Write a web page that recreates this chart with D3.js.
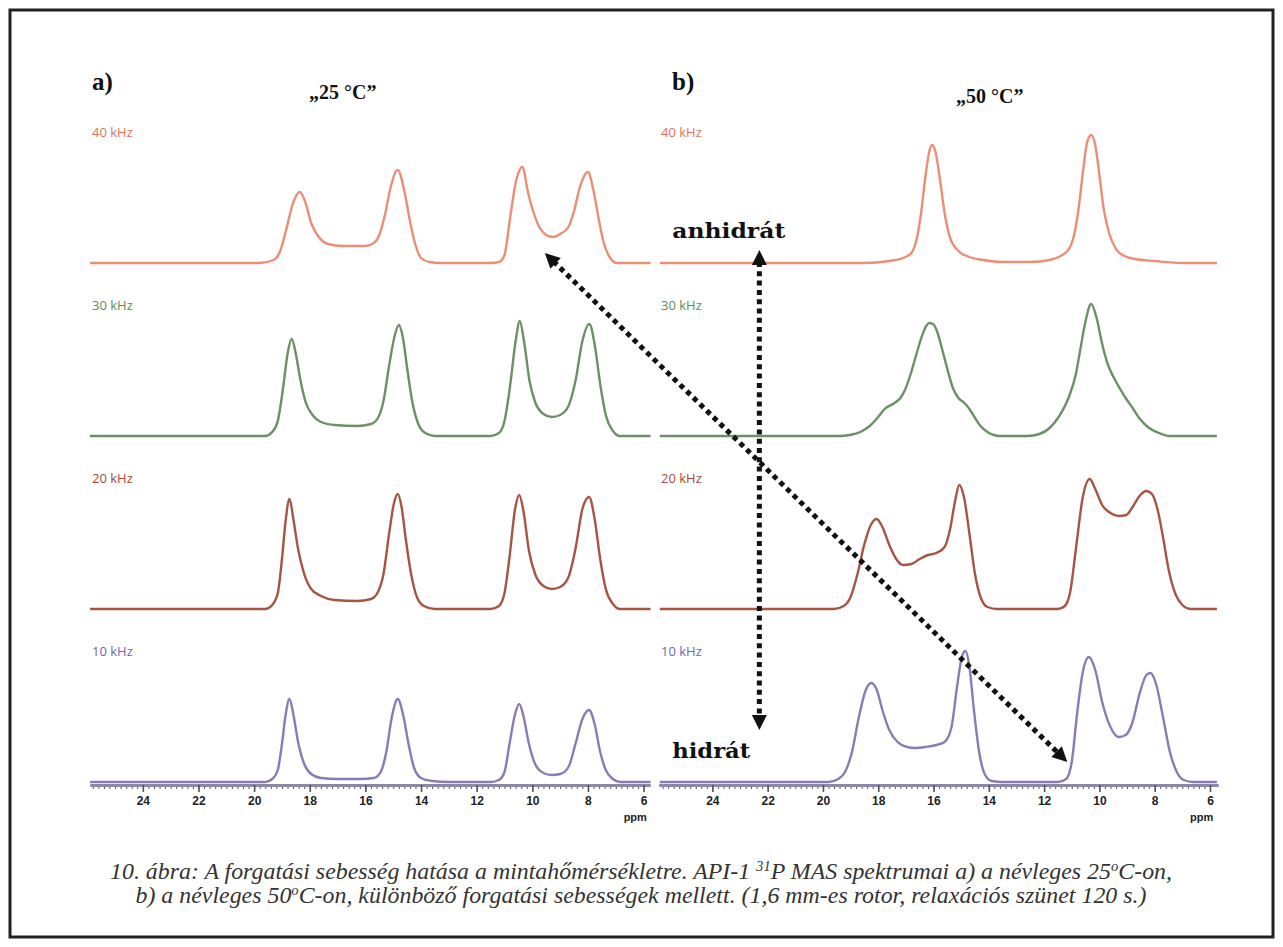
<!DOCTYPE html>
<html>
  <head>
    <meta charset="utf-8">
    <title>31P MAS spektrumok</title>
    <script src="https://d3js.org/d3.v7.min.js"></script>
    <style>
      body { margin: 0; background: #fff; }
      .spec { fill: none; stroke-width: 2.4; stroke-linejoin: round; }
      .freq { font-family: "Open Sans", sans-serif; font-size: 13px; }
      .tag { font-family: "Liberation Serif", serif; font-weight: bold; fill: #111; }
      .form { font-family: "DejaVu Serif", serif; font-weight: bold; font-size: 21px; fill: #111; }
      .axis text { font-family: "Liberation Sans Narrow", "Liberation Sans", sans-serif; font-weight: bold; font-size: 12px; fill: #222; }
      .axis line { stroke: #555; }
      .axis path { stroke: #8c88a6; stroke-width: 3; }
      .caption { font-family: "Liberation Serif", serif; font-style: italic; font-size: 23px; fill: #333; }
    </style>
  </head>
  <body>
    <svg width="1283" height="947"></svg>
    <script>
      // rows of each panel, top to bottom
      var freqs = ["40 kHz", "30 kHz", "20 kHz", "10 kHz"];
      var panelTags = ["a)", "b)"];
      var temps = ["\u201E25 \u00B0C\u201D", "\u201E50 \u00B0C\u201D"];
      var ppmTicks = [24, 22, 20, 18, 16, 14, 12, 10, 8, 6];

      // spectra: [ppm, intensity (a.u.)]
      // a) nominal 25 C
      var a40 = [[25.9,0],[19.8,0],[19.3,3],[19.05,13],[18.85,33],[18.6,60],[18.36,71],[18.15,60],[17.95,40],[17.7,27],[17.35,19],[16.8,17],[16.0,17],[15.7,20],[15.5,28],[15.3,48],[15.1,75],[14.84,93],[14.6,72],[14.4,42],[14.2,18],[14.0,5],[13.7,1],[13.3,0],[11.5,0],[11.2,1],[11.0,8],[10.8,45],[10.6,80],[10.36,96],[10.15,70],[9.95,50],[9.75,36],[9.5,28],[9.27,26],[9.0,29],[8.7,36],[8.5,52],[8.3,75],[8.0,91],[7.8,72],[7.6,42],[7.45,22],[7.2,5],[6.95,0],[5.75,0]];
      var a30 = [[25.9,0],[19.6,0],[19.35,4],[19.15,15],[18.95,50],[18.8,82],[18.65,97],[18.5,82],[18.35,58],[18.15,34],[17.9,21],[17.6,14],[17.1,11],[16.3,10],[15.8,12],[15.55,18],[15.35,35],[15.15,70],[14.95,100],[14.8,111],[14.65,98],[14.5,68],[14.3,32],[14.1,12],[13.85,3],[13.5,0],[11.5,0],[11.2,3],[11.0,15],[10.8,50],[10.6,95],[10.45,115],[10.3,95],[10.1,55],[9.9,34],[9.6,22],[9.3,19],[9.0,21],[8.7,30],[8.45,55],[8.2,95],[7.95,112],[7.75,90],[7.55,50],[7.35,20],[7.1,5],[6.85,0],[5.75,0]];
      var a20 = [[25.9,0],[19.6,0],[19.35,4],[19.15,16],[19.0,50],[18.88,85],[18.73,110],[18.58,88],[18.42,60],[18.2,35],[17.95,20],[17.6,13],[17.1,9],[16.3,8],[15.8,10],[15.55,17],[15.35,35],[15.15,75],[14.98,105],[14.84,115],[14.7,102],[14.55,70],[14.35,34],[14.15,12],[13.9,3],[13.5,0],[11.5,0],[11.2,3],[11.0,16],[10.82,52],[10.62,100],[10.47,114],[10.32,98],[10.12,58],[9.9,35],[9.6,23],[9.3,20],[9.0,22],[8.7,32],[8.45,60],[8.2,100],[7.96,112],[7.76,90],[7.56,50],[7.36,20],[7.1,5],[6.85,0],[5.75,0]];
      var a10 = [[25.9,0],[19.6,0],[19.35,3],[19.15,12],[19.0,38],[18.88,65],[18.73,83],[18.58,66],[18.42,40],[18.2,18],[17.95,8],[17.6,4],[17.0,3],[16.2,3],[15.7,4],[15.45,10],[15.25,30],[15.05,65],[14.84,83],[14.65,68],[14.45,38],[14.25,14],[14.0,4],[13.6,1],[13.0,0],[11.5,0],[11.2,2],[11.0,10],[10.82,38],[10.62,68],[10.47,78],[10.32,66],[10.12,38],[9.9,18],[9.6,9],[9.3,7],[9.0,8],[8.7,15],[8.45,38],[8.2,63],[7.96,72],[7.76,58],[7.56,30],[7.36,12],[7.1,3],[6.85,0],[5.75,0]];
      // b) nominal 50 C
      var b40 = [[25.9,0],[18.5,0],[17.6,2],[17.1,5],[16.8,10],[16.6,25],[16.45,50],[16.3,85],[16.15,112],[16.05,118],[15.92,110],[15.75,80],[15.6,50],[15.4,25],[15.1,12],[14.7,6],[14.2,3],[13.5,1],[12.5,1],[11.8,3],[11.4,7],[11.1,14],[10.9,30],[10.75,55],[10.6,90],[10.45,120],[10.3,128],[10.15,118],[10.0,88],[9.85,55],[9.65,30],[9.4,14],[9.1,7],[8.7,4],[8.0,2],[7.0,0],[5.75,0]];
      var b30 = [[25.9,0],[19.4,0],[19.03,1],[18.65,4],[18.31,10],[18.0,19],[17.77,27],[17.41,33],[17.2,38],[17.05,45],[16.85,60],[16.69,75],[16.5,93],[16.32,107],[16.15,113],[16.02,112],[15.85,103],[15.7,88],[15.49,66],[15.3,48],[15.1,38],[14.88,33],[14.7,27],[14.52,19],[14.3,10],[14.05,4],[13.6,0],[12.6,0],[12.17,2],[11.8,8],[11.45,20],[11.09,40],[10.85,62],[10.7,85],[10.5,115],[10.3,132],[10.1,118],[9.9,92],[9.7,72],[9.47,58],[9.25,47],[9.05,38],[8.8,28],[8.56,18],[8.25,9],[7.84,3],[7.48,0],[5.75,0]];
      var b20 = [[25.9,0],[19.6,0],[19.25,3],[19.0,12],[18.75,35],[18.5,65],[18.25,85],[18.06,90],[17.85,82],[17.6,64],[17.35,50],[17.1,44],[16.8,45],[16.5,50],[16.2,54],[15.9,56],[15.6,62],[15.4,80],[15.22,108],[15.07,124],[14.9,112],[14.7,75],[14.5,35],[14.3,12],[14.05,2],[13.7,0],[11.5,0],[11.25,3],[11.05,18],[10.85,60],[10.6,112],[10.35,130],[10.15,120],[9.9,104],[9.6,96],[9.3,93],[9.03,94],[8.8,102],[8.55,113],[8.3,118],[8.1,115],[7.9,100],[7.7,72],[7.5,40],[7.25,15],[7.0,4],[6.7,0],[5.75,0]];
      var b10 = [[25.9,0],[19.8,0],[19.45,3],[19.2,10],[18.95,30],[18.7,65],[18.45,92],[18.25,99],[18.05,92],[17.85,72],[17.6,52],[17.3,40],[16.95,35],[16.7,34],[16.3,35],[15.9,37],[15.6,40],[15.35,55],[15.15,95],[15.0,122],[14.85,131],[14.7,115],[14.55,75],[14.35,30],[14.15,8],[13.9,1],[13.5,0],[11.5,0],[11.2,3],[11.0,20],[10.8,70],[10.6,110],[10.38,125],[10.15,112],[9.9,80],[9.6,55],[9.3,45],[9.05,47],[8.8,60],[8.55,88],[8.3,107],[8.15,109],[7.95,98],[7.7,65],[7.45,30],[7.2,10],[6.95,2],[6.6,0],[5.75,0]];

      // caption lines; {sup: ...} parts are superscripts
      var captionLines = [
        ["10. \u00E1bra: A forgat\u00E1si sebess\u00E9g hat\u00E1sa a mintah\u0151m\u00E9rs\u00E9kletre. API-1 ", { sup: "31" }, "P MAS spektrumai a) a n\u00E9vleges 25", { sup: "o" }, "C-on,"],
        ["b) a n\u00E9vleges 50", { sup: "o" }, "C-on, k\u00FCl\u00F6nb\u00F6z\u0151 forgat\u00E1si sebess\u00E9gek mellett. (1,6 mm-es rotor, relax\u00E1ci\u00F3s sz\u00FCnet 120 s.)"]
      ];

      var spectra = { a: [a40, a30, a20, a10], b: [b40, b30, b20, b10] };
      var lineColors = ["#ea8e78", "#6e8f67", "#a65545", "#8a7bb6"];
      var labelColors = ["#e0735a", "#5e8c56", "#a4493b", "#6f66b0"];

      var svg = d3.select("svg");
      svg.append("rect")
        .attr("x", 10).attr("y", 10)
        .attr("width", 1263).attr("height", 927)
        .attr("fill", "none").attr("stroke", "#222").attr("stroke-width", 3);

      var xScales = {
        a: d3.scaleLinear().domain([25.9, 5.77]).range([90, 650]),
        b: d3.scaleLinear().domain([25.93, 5.71]).range([659, 1218])
      };
      var row = d3.scalePoint().domain(freqs).range([263, 782]);
      var amp = d3.scaleLinear().domain([0, 100]).range([0, 100]);
      var axisY = 785;

      ["a", "b"].forEach((p, pi) => {
        var x = xScales[p];
        var g = svg.append("g").attr("class", "panel-" + p);

        // spectra
        freqs.forEach((f, i) => {
          var line = d3.line()
            .x(d => x(d[0]))
            .y(d => row(f) - amp(d[1]))
            .curve(d3.curveMonotoneX);
          g.append("path")
            .attr("class", "spec")
            .attr("stroke", lineColors[i])
            .attr("d", line(spectra[p][i]));
          g.append("text")
            .attr("class", "freq")
            .attr("x", x.range()[0] + 2)
            .attr("y", row(f) - 126)
            .attr("fill", labelColors[i])
            .text(f);
        });

        // axis with minor ticks
        var minor = d3.range(60, 259, 2).map(d => d / 10);
        g.append("g")
          .attr("class", "axis")
          .attr("transform", `translate(0,${axisY})`)
          .call(d3.axisBottom(x).tickValues(minor).tickSize(4).tickSizeOuter(0).tickFormat(""));
        var major = g.append("g")
          .attr("class", "axis")
          .attr("transform", `translate(0,${axisY})`)
          .call(d3.axisBottom(x).tickValues(ppmTicks).tickSize(7).tickSizeOuter(0).tickPadding(4).tickFormat(d3.format("d")));
        major.selectAll("line").attr("stroke-width", 1.6);
        g.append("text")
          .attr("class", "axis-unit")
          .attr("x", x(6.3)).attr("y", 821)
          .attr("text-anchor", "middle")
          .style("font", "bold 11px 'Liberation Sans', sans-serif")
          .attr("fill", "#222")
          .text("ppm");

        // panel headers
        g.append("text")
          .attr("class", "tag")
          .attr("x", p === "a" ? 92 : 672).attr("y", 90)
          .style("font-size", "25px")
          .text(panelTags[pi]);
        g.append("text")
          .attr("class", "tag")
          .attr("x", p === "a" ? 309 : 956).attr("y", p === "a" ? 99 : 103)
          .style("font-size", "20px")
          .text(temps[pi]);
      });

      // annotations, placed in data coordinates
      var forms = [
        { text: "anhidr\u00E1t", p: "b", ppm: 25.45, row: "40 kHz", h: 25, len: 113 },
        { text: "hidr\u00E1t", p: "b", ppm: 25.45, row: "10 kHz", h: 24, len: 78 }
      ];
      var arrows = [
        { from: { p: "b", ppm: 22.3, row: "40 kHz", h: 13 }, to: { p: "b", ppm: 22.3, row: "10 kHz", h: 52 } },
        { from: { p: "a", ppm: 9.55, row: "40 kHz", h: 10 }, to: { p: "b", ppm: 11.16, row: "10 kHz", h: 20 } }
      ];
      var pos = e => [xScales[e.p](e.ppm), row(e.row) - amp(e.h)];

      svg.selectAll("text.form")
        .data(forms)
        .enter()
        .append("text")
          .attr("class", "form")
          .attr("x", d => pos(d)[0])
          .attr("y", d => pos(d)[1])
          .attr("textLength", d => d.len)
          .attr("lengthAdjust", "spacingAndGlyphs")
          .text(d => d.text);

      var head = 15, half = 7.5;
      arrows.forEach(a => {
        var p0 = pos(a.from), p1 = pos(a.to);
        var dx = p1[0] - p0[0], dy = p1[1] - p0[1];
        var len = Math.hypot(dx, dy), ux = dx / len, uy = dy / len;
        svg.append("line")
          .attr("x1", p0[0] + ux * head * 0.8).attr("y1", p0[1] + uy * head * 0.8)
          .attr("x2", p1[0] - ux * head * 0.8).attr("y2", p1[1] - uy * head * 0.8)
          .attr("stroke", "#111").attr("stroke-width", 5)
          .attr("stroke-dasharray", "5 4.3");
        [[p0, 1], [p1, -1]].forEach(([t, s]) => {
          var bx = t[0] + s * ux * head, by = t[1] + s * uy * head;
          svg.append("polygon")
            .attr("fill", "#111")
            .attr("points", [[t[0], t[1]], [bx - uy * half, by + ux * half], [bx + uy * half, by - ux * half]].join(" "));
        });
      });

      // caption
      var capLen = [1062, 1011];
      captionLines.forEach((parts, i) => {
        var t = svg.append("text")
          .attr("class", "caption")
          .attr("x", 641).attr("y", 879 + i * 24)
          .attr("text-anchor", "middle")
          .attr("textLength", capLen[i])
          .attr("lengthAdjust", "spacingAndGlyphs");
        var shift = 0;
        parts.forEach(part => {
          if (typeof part === "object") {
            t.append("tspan").attr("dy", -8).style("font-size", "14px").text(part.sup);
            shift = 8;
          } else {
            t.append("tspan").attr("dy", shift).text(part);
            shift = 0;
          }
        });
      });
    </script>
  </body>
</html>
